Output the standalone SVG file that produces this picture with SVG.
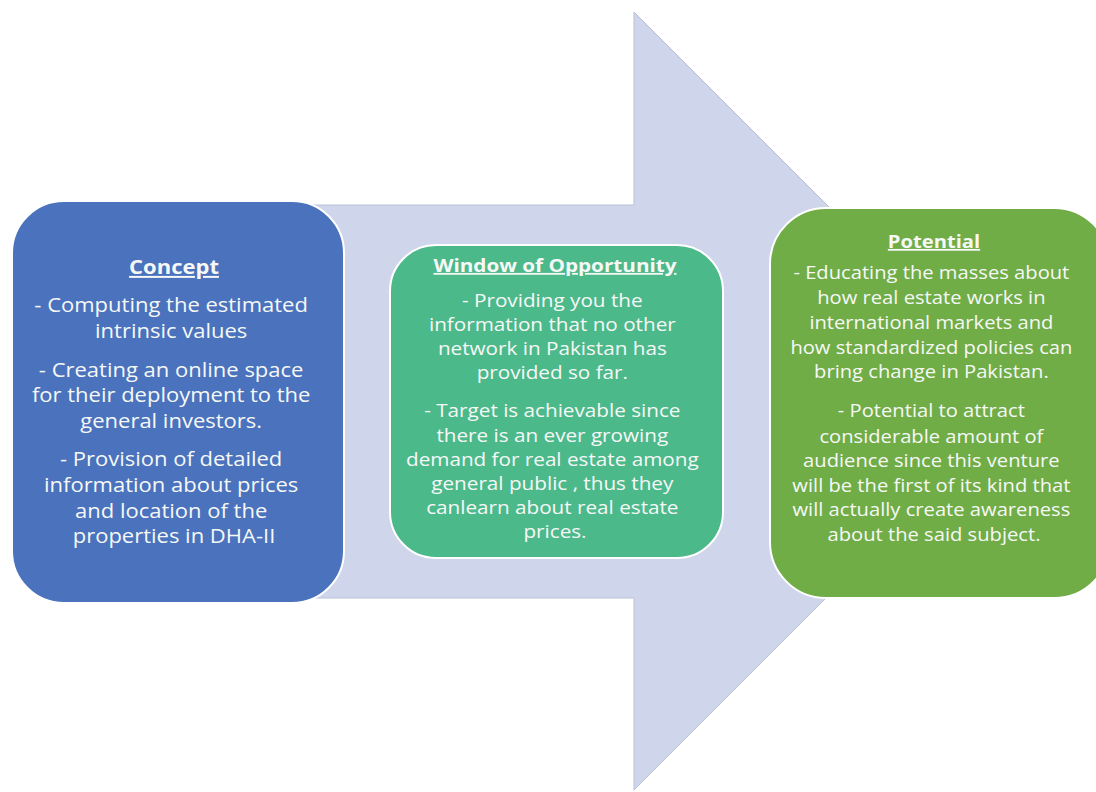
<svg xmlns="http://www.w3.org/2000/svg" width="1096" height="792" viewBox="0 0 1096 792">
  <style>
    .box { stroke: #ffffff; stroke-width: 2; }
    .t { font-family: "Open Sans", "Liberation Sans", sans-serif; fill: #f6f8f6; text-anchor: middle; }
    .title { font-weight: bold; text-decoration: underline; }
    .big { font-size: 20px; }
    .sm { font-size: 18px; }
  </style>
  <rect width="1096" height="792" fill="#ffffff"/>

  <!-- background block arrow -->
  <g id="arrow">
    <polygon points="100,205 634,205 634,12 1023,401 634,790 634,598 100,598" fill="#cfd5ea" stroke="#b9c1da" stroke-width="1"/>
  </g>

  <g id="concept">
    <rect class="box" x="12" y="201" width="332" height="402" rx="52" fill="#4a72bd"/>
    <g transform="translate(174,0) scale(1.1,1)">
      <text class="t big title" x="0" y="274">Concept</text>
      <text class="t big">
        <tspan x="0" y="312">- Computing the estimated</tspan>
        <tspan x="0" y="338">intrinsic values</tspan>
        <tspan x="0" y="377">- Creating an online space</tspan>
        <tspan x="0" y="402">for their deployment to the</tspan>
        <tspan x="0" y="428">general investors.</tspan>
        <tspan x="0" y="466">- Provision of detailed</tspan>
        <tspan x="0" y="492">information about prices</tspan>
        <tspan x="0" y="518">and location of the</tspan>
        <tspan x="0" y="543">properties in DHA-II</tspan>
      </text>
    </g>
  </g>

  <g id="window">
    <rect class="box" x="390" y="245" width="333" height="313" rx="46" fill="#4cb98b"/>
    <g transform="translate(555,0) scale(1.15,1)">
      <text class="t sm title" x="0" y="272">Window of Opportunity</text>
      <text class="t sm">
        <tspan x="0" y="307">- Providing you the</tspan>
        <tspan x="0" y="331">information that no other</tspan>
        <tspan x="0" y="355">network in Pakistan has</tspan>
        <tspan x="0" y="379">provided so far.</tspan>
        <tspan x="0" y="417">- Target is achievable since</tspan>
        <tspan x="0" y="442">there is an ever growing</tspan>
        <tspan x="0" y="466">demand for real estate among</tspan>
        <tspan x="0" y="490">general public , thus they</tspan>
        <tspan x="0" y="514">canlearn about real estate</tspan>
        <tspan x="0" y="538">prices.</tspan>
      </text>
    </g>
  </g>

  <g id="potential">
    <rect class="box" x="770" y="208" width="340" height="390" rx="56" fill="#70ad47"/>
    <g transform="translate(934,0) scale(1.12,1)">
      <text class="t sm title" x="0" y="248">Potential</text>
      <text class="t sm">
        <tspan x="0" y="279">- Educating the masses about</tspan>
        <tspan x="0" y="304">how real estate works in</tspan>
        <tspan x="0" y="329">international markets and</tspan>
        <tspan x="0" y="354">how standardized policies can</tspan>
        <tspan x="0" y="378">bring change in Pakistan.</tspan>
        <tspan x="0" y="417">- Potential to attract</tspan>
        <tspan x="0" y="443">considerable amount of</tspan>
        <tspan x="0" y="467">audience since this venture</tspan>
        <tspan x="0" y="492">will be the first of its kind that</tspan>
        <tspan x="0" y="516">will actually create awareness</tspan>
        <tspan x="0" y="541">about the said subject.</tspan>
      </text>
    </g>
  </g>
</svg>
